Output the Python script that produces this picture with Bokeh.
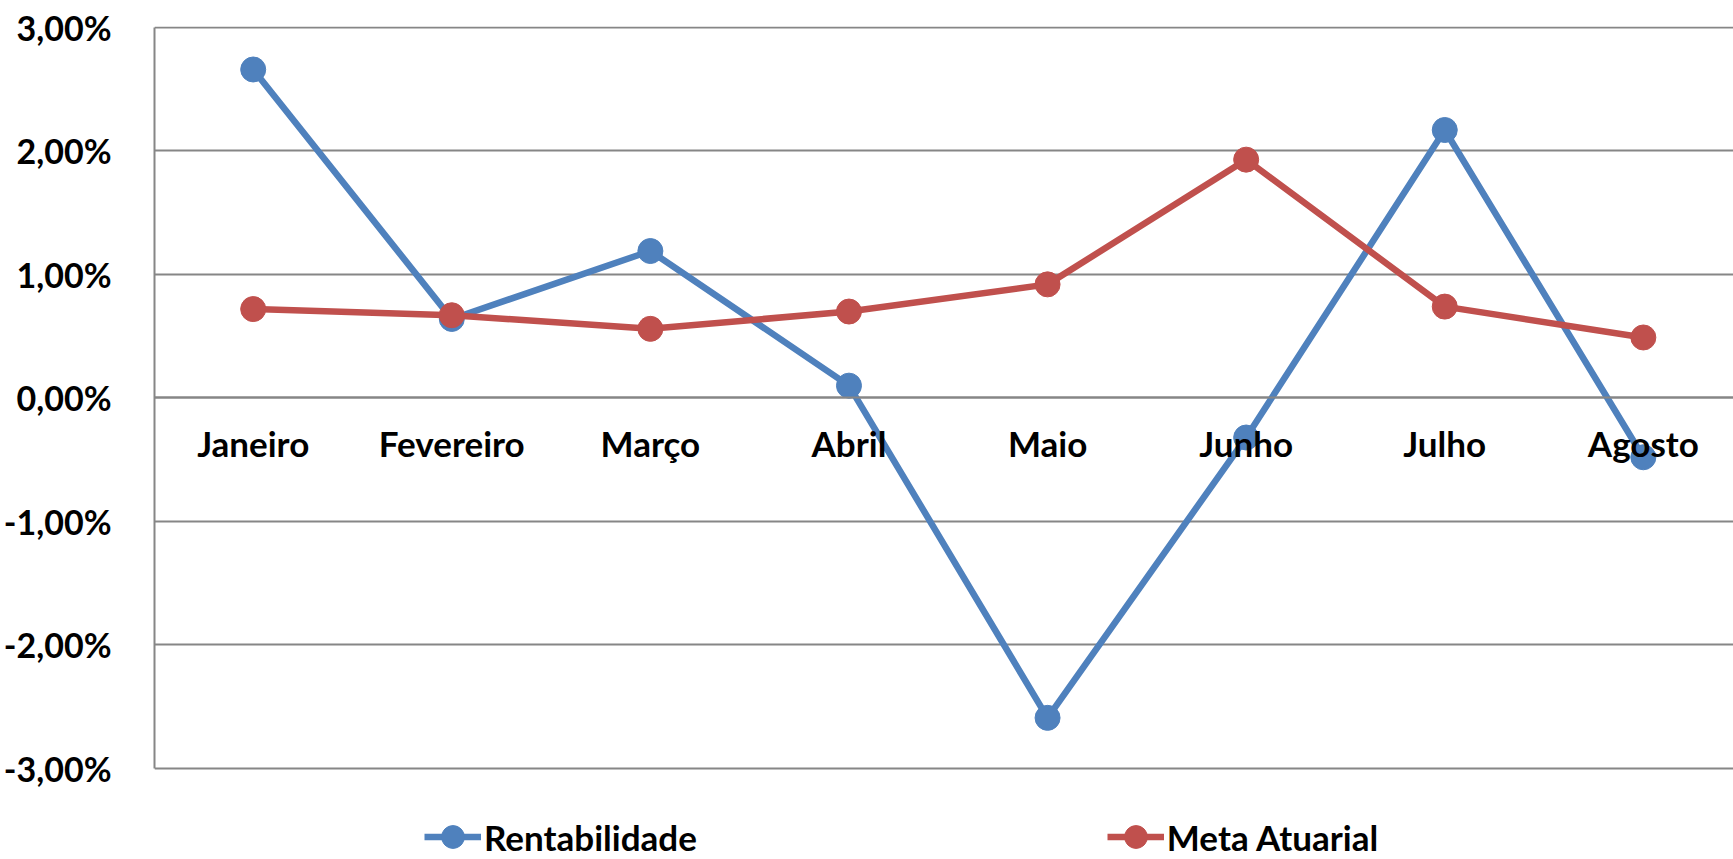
from bokeh.plotting import figure
from bokeh.models import (ColumnDataSource, FixedTicker, Range1d, Legend, LegendItem,
                          LinearAxis)
from bokeh.embed import file_html
from bokeh.resources import INLINE

months = ["Janeiro", "Fevereiro", "Março", "Abril", "Maio", "Junho", "Julho", "Agosto"]
rentabilidade = [2.66, 0.64, 1.19, 0.10, -2.59, -0.32, 2.17, -0.48]
meta_atuarial = [0.72, 0.67, 0.56, 0.70, 0.92, 1.93, 0.74, 0.49]
y_ticks = [-3, -2, -1, 0, 1, 2, 3]
y_tick_labels = ["-3,00%", "-2,00%", "-1,00%", "0,00%", "1,00%", "2,00%", "3,00%"]

x_idx = list(range(len(months)))
src = ColumnDataSource(dict(x=x_idx, rent=rentabilidade, meta=meta_atuarial))

FONT = "Lato"
GRID = "#868686"
BLUE = "#4F81BD"
RED = "#C0504D"

p = figure(width=1733, height=859, output_backend="svg", toolbar_location=None,
           x_range=Range1d(-0.497, 7.454), y_range=Range1d(-3.737, 3.0081),
           x_axis_location=None, y_axis_location="left",
           min_border_left=150, min_border_right=0, min_border_top=26,
           min_border_bottom=0)
p.outline_line_color = None
p.background_fill_color = "white"
p.border_fill_color = "white"

# y axis
ya = p.yaxis[0]
ya.ticker = FixedTicker(ticks=y_ticks)
ya.bounds = (min(y_ticks), max(y_ticks))
ya.major_label_overrides = {t: l for t, l in zip(y_ticks, y_tick_labels)}
ya.major_tick_line_color = None
ya.minor_tick_line_color = None
ya.axis_line_color = GRID
ya.axis_line_width = 2
ya.major_label_standoff = 37
ya.major_label_text_font = FONT
ya.major_label_text_font_style = "bold"
ya.major_label_text_font_size = "34px"
ya.major_label_text_color = "black"

p.ygrid.ticker = FixedTicker(ticks=y_ticks)
p.ygrid.grid_line_color = GRID
p.ygrid.grid_line_width = 2
p.xgrid.grid_line_color = None

# x axis at zero
xa = LinearAxis(fixed_location=0, ticker=FixedTicker(ticks=x_idx),
                major_label_overrides={i: m for i, m in zip(x_idx, months)})
xa.major_tick_line_color = None
xa.minor_tick_line_color = None
xa.axis_line_color = GRID
xa.axis_line_width = 2
xa.major_label_standoff = 18
xa.major_label_text_font = FONT
xa.major_label_text_font_style = "bold"
xa.major_label_text_font_size = "35px"
xa.major_label_text_color = "black"
p.add_layout(xa, "below")

r1l = p.line("x", "rent", source=src, line_color=BLUE, line_width=6.5)
r1s = p.scatter("x", "rent", source=src, size=25, fill_color=BLUE, line_color=BLUE)
r2l = p.line("x", "meta", source=src, line_color=RED, line_width=6.5)
r2s = p.scatter("x", "meta", source=src, size=25, fill_color=RED, line_color=RED)

legend = Legend(items=[LegendItem(label="Rentabilidade", renderers=[r1l, r1s]),
                       LegendItem(label="Meta Atuarial", renderers=[r2l, r2s])],
                orientation="horizontal", location=(270, -6),
                glyph_width=57, glyph_height=57, label_standoff=3, spacing=410,
                padding=0, margin=0, border_line_color=None, background_fill_alpha=0,
                label_text_font=FONT, label_text_font_style="bold",
                label_text_font_size="35px", label_text_color="black")
p.add_layout(legend, "center")

open("out.html", "w").write(file_html(p, INLINE))
